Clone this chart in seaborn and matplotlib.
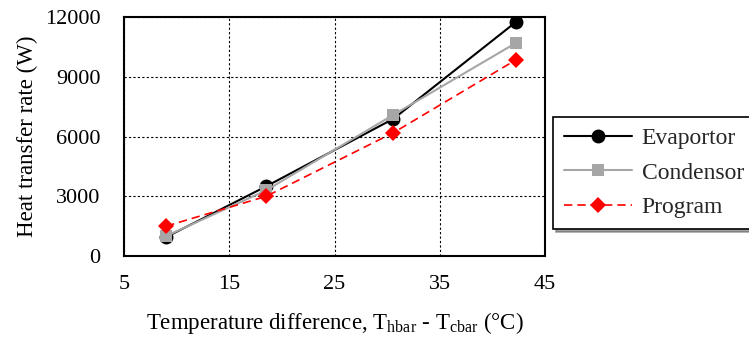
import matplotlib
matplotlib.use("Agg")
import matplotlib.pyplot as plt
import seaborn as sns
import pandas as pd

# Temperature difference (°C) and heat transfer rates (W)
temp_diff = [9.0, 18.5, 30.6, 42.2]
evaporator = [950, 3500, 6900, 11750]
condenser = [1000, 3300, 7100, 10700]
program = [1500, 3000, 6200, 9850]

x_ticks = [5, 15, 25, 35, 45]
y_ticks = [0, 3000, 6000, 9000, 12000]

sns.set_theme(style="white")
plt.rcParams["font.family"] = ["Liberation Serif", "DejaVu Serif"]
plt.rcParams["mathtext.fontset"] = "custom"
plt.rcParams["mathtext.rm"] = "Liberation Serif"

fig = plt.figure(figsize=(7.49, 3.38), dpi=100)
ax = fig.add_axes([0.1656, 0.2426, 0.5621, 0.7062])

series = [
    ("Evaportor", evaporator, dict(color="black", marker="o", markersize=10,
                                   linestyle="-", linewidth=1.5)),
    ("Condensor", condenser, dict(color="#A6A6A6", marker="s", markersize=9,
                                  linestyle="-", linewidth=1.5)),
    ("Program", program, dict(color="#FF0000", marker="D", markersize=8,
                              linestyle=(0, (5, 3)), linewidth=1.2)),
]

for name, values, style in series:
    df = pd.DataFrame({"x": temp_diff, "y": values})
    sns.lineplot(data=df, x="x", y="y", ax=ax, label=name,
                 markeredgewidth=0, markeredgecolor=style["color"], **style)

ax.set_xlim(5, 45)
ax.set_ylim(0, 12000)
ax.set_xticks(x_ticks)
ax.set_yticks(y_ticks)
ax.set_xticklabels([str(v) for v in x_ticks])
ax.set_yticklabels([str(v) for v in y_ticks])
ax.tick_params(axis="both", length=0, labelsize=16, colors="black")
ax.tick_params(axis="x", pad=14)
ax.tick_params(axis="y", pad=17)

ax.grid(True, color="black", linestyle=(0, (2, 2)), linewidth=0.8)
for spine in ax.spines.values():
    spine.set_visible(True)
    spine.set_color("black")
    spine.set_linewidth(1.5)

ax.set_xlabel(r"Temperature difference, T$_{\mathrm{hbar}}$ - T$_{\mathrm{cbar}}$ (°C)",
              fontsize=16.5, color="black", labelpad=11)
ax.set_ylabel("Heat transfer rate (W)", fontsize=16.5, color="black", labelpad=5)

leg = ax.legend(loc="upper left", bbox_to_anchor=(1.019, 0.582), borderaxespad=0,
                fontsize=17, frameon=True, fancybox=False, shadow=True,
                edgecolor="black", handlelength=2.9, handletextpad=0.4,
                borderpad=0.45, labelspacing=0.55)
leg.get_frame().set_linewidth(1.2)

fig.savefig("out.png", dpi=100)
